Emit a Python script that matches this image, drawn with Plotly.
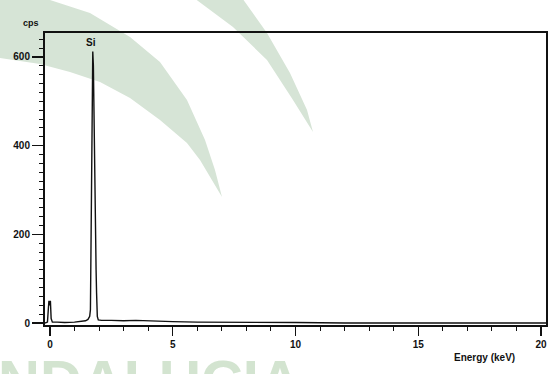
import plotly.graph_objects as go

# ---- data ----
energy_kev = [-0.20, -0.10, -0.06, -0.04, -0.01, 0.02, 0.05, 0.10, 0.30, 0.60, 1.00,
              1.30, 1.45, 1.55, 1.62, 1.65, 1.665, 1.69, 1.72, 1.745, 1.77, 1.80,
              1.84, 1.88, 1.90, 1.93, 1.97, 2.10, 2.50, 3.00, 3.50, 4.00, 4.20,
              4.50, 5.00, 6.00, 7.00, 8.00, 9.00, 9.50, 10.0, 12.0, 14.0, 16.0,
              18.0, 20.2]
counts_cps = [0, 2, 35, 50, 40, 50, 10, 2, 2, 1, 2,
              3, 5, 8, 15, 30, 135, 368, 590, 612, 580, 420,
              217, 120, 68, 15, 7, 6, 6, 5, 6, 5, 5,
              3, 3, 2, 2, 2, 2, 1, 1, 0, 0, 0,
              0, 0]

peak_label = "Si"
peak_energy = 1.745
x_ticks = [0, 5, 10, 15, 20]
y_ticks = [0, 200, 400, 600]
x_range = [-0.2, 20.2]
y_range = [-4.5, 654]

# ---- layout geometry (pixels) ----
W, H = 558, 374
L, R, T, B = 45, 12, 33, 49
PW, PH = W - L - R, H - T - B


def px(xp):
    return (xp - L) / PW


def py(yp):
    return (H - B - yp) / PH


def path_from(points):
    s = "M {:.4f} {:.4f}".format(px(points[0][0]), py(points[0][1]))
    for a, b in points[1:]:
        s += " L {:.4f} {:.4f}".format(px(a), py(b))
    return s + " Z"


crescent1 = [(-5, -10), (50, 0), (90, 13), (130, 37), (160, 62), (187, 100), (205, 140),
             (215, 170), (222, 197), (200, 160), (187, 143), (160, 120), (130, 98),
             (100, 82), (70, 72), (40, 64), (0, 58), (-5, 58)]
crescent2 = [(240, -5), (267, 33), (290, 73), (307, 110), (313, 132), (293, 100),
             (267, 60), (233, 27), (190, -5)]

wm = "#d6e4d6"
font_main = "Liberation Sans Narrow, Arial Narrow, Liberation Sans, Arial, sans-serif"
txt = dict(family=font_main, size=10, color="#111", weight="bold")

fig = go.Figure()
fig.add_trace(go.Scatter(x=energy_kev, y=counts_cps, mode="lines",
                         line=dict(color="#111111", width=1.4), hoverinfo="skip",
                         showlegend=False))

fig.update_layout(
    width=W, height=H,
    margin=dict(l=L, r=R, t=T, b=B, pad=0, autoexpand=False),
    paper_bgcolor="white", plot_bgcolor="rgba(0,0,0,0)",
    shapes=[
        dict(type="path", xref="paper", yref="paper", path=path_from(crescent1),
             fillcolor=wm, line=dict(width=0), layer="below"),
        dict(type="path", xref="paper", yref="paper", path=path_from(crescent2),
             fillcolor=wm, line=dict(width=0), layer="below"),
    ],
    annotations=[
        dict(text="NDALUCIA", xref="paper", yref="paper", x=px(-4), y=py(380),
             xanchor="left", yanchor="middle", showarrow=False,
             font=dict(family="Liberation Sans, Arial", size=58, color="#d3e4d0",
                       weight="bold"),
             ),
        dict(text="cps", xref="paper", yref="paper", x=px(21), y=py(16),
             showarrow=False, font=dict(txt, size=9)),
        dict(text="Energy (keV)", xref="paper", yref="paper", x=px(517), y=py(365),
             showarrow=False, font=txt),
        dict(text=peak_label, x=peak_energy - 0.08, y=max(counts_cps), xref="x", yref="y",
             yanchor="bottom", yshift=2, showarrow=False, font=txt),
    ],
)

fig.update_xaxes(range=x_range, tickvals=x_ticks, ticks="outside", ticklen=9, tickwidth=1.3,
                 tickcolor="#111", showline=True, linecolor="#111", linewidth=2, mirror=True,
                 showgrid=False, zeroline=False, automargin=False, tickfont=txt,
                 minor=dict(dtick=1, tick0=0, ticks="outside", ticklen=4, tickcolor="#111",
                            tickwidth=1, showgrid=False))
fig.update_yaxes(range=y_range, tickvals=y_ticks, ticks="outside", ticklen=11, tickwidth=1.3,
                 tickcolor="#111", showline=True, linecolor="#111", linewidth=2, mirror=True,
                 showgrid=False, zeroline=False, ticklabelstandoff=0, automargin=False,
                 tickfont=txt,
                 minor=dict(dtick=20, tick0=0, ticks="outside", ticklen=4, tickcolor="#111",
                            tickwidth=1, showgrid=False))

fig.write_html("out.html", config={"displayModeBar": False, "staticPlot": True},
               post_script="document.body.style.margin='0';document.body.style.overflow='hidden';")
